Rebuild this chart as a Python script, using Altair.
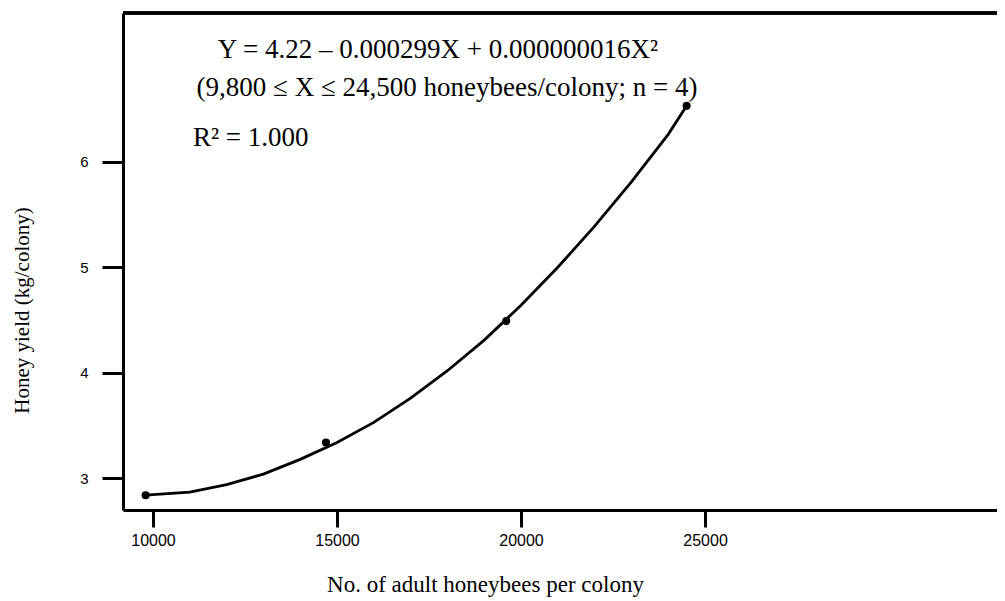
import altair as alt
import pandas as pd

# observed data points
obs_x = [9800, 14700, 19600, 24500]
obs_y = [2.84, 3.34, 4.49, 6.53]

# fitted curve
curve_x = [9800, 11000, 12000, 13000, 14000, 15000, 16000, 17000, 18000,
           19000, 20000, 21000, 22000, 23000, 24000, 24500]
curve_y = [2.84, 2.87, 2.94, 3.04, 3.18, 3.34, 3.53, 3.76, 4.02,
           4.31, 4.64, 5.00, 5.39, 5.81, 6.26, 6.53]

x_ticks = [10000, 15000, 20000, 25000]
y_ticks = [3, 4, 5, 6]

eq_line1 = "Y = 4.22 \u2013 0.000299X + 0.000000016X\u00b2"
eq_line2 = "(9,800 \u2264 X \u2264 24,500 honeybees/colony; n = 4)"
r2_text = "R\u00b2 = 1.000"

x_title = "No. of adult honeybees per colony"
y_title = "Honey yield (kg/colony)"

W, H = 874, 497
SERIF = "Liberation Serif"
SANS = "Liberation Sans"

obs = pd.DataFrame({"x": obs_x, "y": obs_y})
curve = pd.DataFrame({"x": curve_x, "y": curve_y})

xscale = alt.Scale(domain=[9185, 32933], nice=False, zero=False)
yscale = alt.Scale(domain=[2.70, 7.41], nice=False, zero=False)

xaxis = alt.Axis(values=x_ticks, title=x_title, format="d", grid=False,
                 domainColor="black", domainWidth=3, tickColor="black",
                 tickWidth=3, tickSize=17, labelFont=SANS, labelFontSize=16,
                 labelColor="black", labelPadding=5, titleFont=SERIF,
                 titleFontSize=23, titleFontWeight="normal", titleColor="black",
                 titleX=362, titleY=74, titleAlign="center",
                 titleBaseline="middle")
yaxis = alt.Axis(values=y_ticks, title=y_title, format="d", grid=False,
                 domainColor="black", domainWidth=3, tickColor="black",
                 tickWidth=3, tickSize=21, labelFont=SANS, labelFontSize=15,
                 labelColor="black", labelPadding=14, titleFont=SERIF,
                 titleFontSize=21, titleFontWeight="normal", titleColor="black",
                 titleX=-101, titleY=297, titleAngle=270, titleAlign="center",
                 titleBaseline="middle")

line = alt.Chart(curve).mark_line(color="black", strokeWidth=2.8).encode(
    x=alt.X("x:Q", scale=xscale, axis=xaxis),
    y=alt.Y("y:Q", scale=yscale, axis=yaxis),
)
pts = alt.Chart(obs).mark_circle(color="black", size=65, opacity=1).encode(
    x=alt.X("x:Q", scale=xscale),
    y=alt.Y("y:Q", scale=yscale),
)

top_rule = alt.Chart(obs).mark_rule(color="black", strokeWidth=3).encode(
    x=alt.value(0), x2=alt.value(W), y=alt.value(0)
)

def label(txt, x, y, align, size):
    return alt.Chart(pd.DataFrame({"t": [txt]})).mark_text(
        font=SERIF, fontSize=size, color="black", align=align, baseline="middle"
    ).encode(text="t:N", x=alt.value(x), y=alt.value(y))

t1 = label(eq_line1, 315, 37, "center", 27)
t2 = label(eq_line2, 324, 75, "center", 27)
t3 = label(r2_text, 70, 125, "left", 27)

chart = alt.layer(line, pts, top_rule, t1, t2, t3).properties(
    width=W, height=H,
    autosize=alt.AutoSizeParams(type="none"),
    padding={"left": 115, "top": 5, "right": 0, "bottom": 88},
).configure_view(stroke=None).configure(background="white")

chart.save("out.html", embed_options={"renderer": "svg", "actions": False})
